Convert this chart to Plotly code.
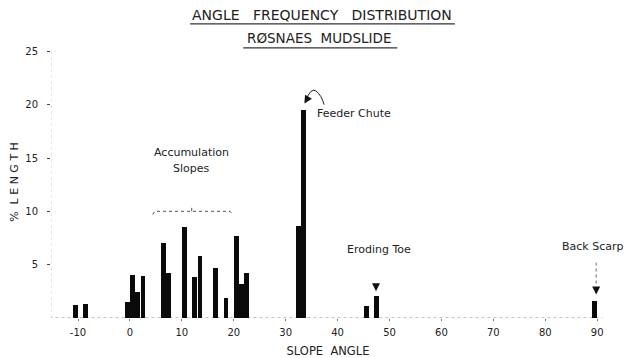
import plotly.graph_objects as go

# Data
slope_angle = [-10.5, -8.5, -0.5, 0.5, 1.5, 2.5, 6.5, 7.5, 10.5, 12.5, 13.5,
               16.5, 18.5, 20.5, 21.5, 22.5, 32.5, 33.5, 45.5, 47.5, 89.5]
pct_length = [1.2, 1.3, 1.5, 4.0, 2.4, 3.9, 7.0, 4.2, 8.5, 3.8, 5.8,
              4.7, 1.9, 7.7, 3.2, 4.2, 8.6, 19.5, 1.1, 2.1, 1.6]
x_ticks = [-10, 0, 10, 20, 30, 40, 50, 60, 70, 80, 90]
y_ticks = [5, 10, 15, 20, 25]

FONT = "DejaVu Sans"
TXT = "#222222"

fig = go.Figure()
fig.add_trace(go.Bar(
    x=slope_angle, y=pct_length, width=0.92,
    marker=dict(color="#0a0a0a", line=dict(width=0)),
    hoverinfo="x+y"))

# Axis lines (dotted, faint)
fig.add_shape(type="line", xref="x", yref="y", x0=-15.5, x1=91.0, y0=0, y1=0,
              line=dict(color="#888888", width=1, dash="dot"), layer="below")
fig.add_shape(type="line", xref="x", yref="y", x0=-15.2, x1=-15.2, y0=0, y1=25.3,
              line=dict(color="#c8c8c8", width=1, dash="dot"), layer="below")

# Accumulation bracket
fig.add_shape(type="path", xref="x", yref="y",
              path="M 4.4,9.7 L 4.8,10.0 L 19.3,10.0 L 19.7,9.7",
              line=dict(color="#555555", width=1, dash="dot"))
fig.add_annotation(x=11.9, y=10.0, ax=0, ay=-5, xref="x", yref="y",
                   showarrow=True, arrowhead=0, arrowwidth=1, arrowcolor="#555555", text="")

# Feeder chute curved arrow
fig.add_shape(type="path", xref="x", yref="y",
              path="M 33.9,20.4 Q 34.8,21.6 35.8,21.3 Q 36.9,20.9 37.4,20.0",
              line=dict(color="#222222", width=1))
fig.add_annotation(x=33.6, y=20.1, ax=3, ay=-5, xref="x", yref="y",
                   showarrow=True, arrowhead=2, arrowsize=1, arrowwidth=1.6,
                   arrowcolor="#111111", text="")

# Eroding toe marker
fig.add_annotation(x=47.4, y=2.5, ax=0, ay=-7, xref="x", yref="y",
                   showarrow=True, arrowhead=2, arrowsize=1, arrowwidth=1.6,
                   arrowcolor="#111111", text="")

# Back scarp dotted pointer
fig.add_shape(type="line", xref="x", yref="y", x0=89.8, x1=89.8, y0=5.2, y1=3.0,
              line=dict(color="#666666", width=1, dash="dot"))
fig.add_annotation(x=89.8, y=2.2, ax=0, ay=-7, xref="x", yref="y",
                   showarrow=True, arrowhead=2, arrowsize=1, arrowwidth=1.6,
                   arrowcolor="#111111", text="")

labels = [
    dict(x=35.6, y=19.2, text="Feeder Chute", xanchor="left"),
    dict(x=11.9, y=15.5, text="Accumulation", xanchor="center"),
    dict(x=11.9, y=14.0, text="Slopes", xanchor="center"),
    dict(x=41.4, y=6.4, text="Eroding Toe", xanchor="left"),
]
for lb in labels:
    fig.add_annotation(x=lb["x"], y=lb["y"], text=lb["text"], xref="x", yref="y",
                       xanchor=lb["xanchor"], yanchor="middle", showarrow=False,
                       font=dict(family=FONT, size=11, color=TXT))
fig.add_annotation(x=1.036, y=6.7, text="Back Scarp", xref="paper", yref="y",
                   xanchor="right", yanchor="middle", showarrow=False,
                   font=dict(family=FONT, size=11, color=TXT))

# Titles (underlined)
fig.add_annotation(x=0.49, y=1.114, xref="paper", yref="paper", showarrow=False,
                   text="ANGLE   FREQUENCY   DISTRIBUTION", xanchor="center", yanchor="middle",
                   font=dict(family=FONT, size=14, color=TXT))
fig.add_annotation(x=0.484, y=1.029, xref="paper", yref="paper", showarrow=False,
                   text="RØSNAES  MUDSLIDE", xanchor="center", yanchor="middle",
                   font=dict(family=FONT, size=13.5, color=TXT))
fig.add_shape(type="line", xref="paper", yref="paper", x0=0.251, x1=0.729,
              y0=1.081, y1=1.081, line=dict(color="#333333", width=1.3))
fig.add_shape(type="line", xref="paper", yref="paper", x0=0.347, x1=0.625,
              y0=0.993, y1=0.993, line=dict(color="#333333", width=1.3))

fig.update_layout(
    width=628, height=358,
    margin=dict(l=51, r=23, t=46, b=40),
    paper_bgcolor="white", plot_bgcolor="white",
    showlegend=False, bargap=0,
    font=dict(family=FONT, size=10, color=TXT),
    xaxis=dict(range=[-15.2, 91.5], tickvals=x_ticks, ticktext=[str(v) for v in x_ticks],
               showgrid=False, zeroline=False, showline=False, automargin=False,
               ticks="outside", ticklen=2, tickcolor="#777777", ticklabelstandoff=3,
               tickfont=dict(family=FONT, size=10, color=TXT),
               title=dict(text="SLOPE  ANGLE", font=dict(family=FONT, size=11.5, color=TXT), standoff=12)),
    yaxis=dict(range=[0, 25.5], tickvals=y_ticks, ticktext=[str(v) for v in y_ticks],
               showgrid=False, zeroline=False, showline=False, automargin=False,
               ticks="outside", ticklen=3, tickcolor="#444444", ticklabelstandoff=7,
               tickfont=dict(family=FONT, size=10, color=TXT),
               title=dict(text="%  L E N G T H", font=dict(family=FONT, size=11, color=TXT), standoff=4)),
)

fig.write_html("out.html", config={"displayModeBar": False},
               post_script="document.body.style.margin='0';document.body.style.overflow='hidden';")
